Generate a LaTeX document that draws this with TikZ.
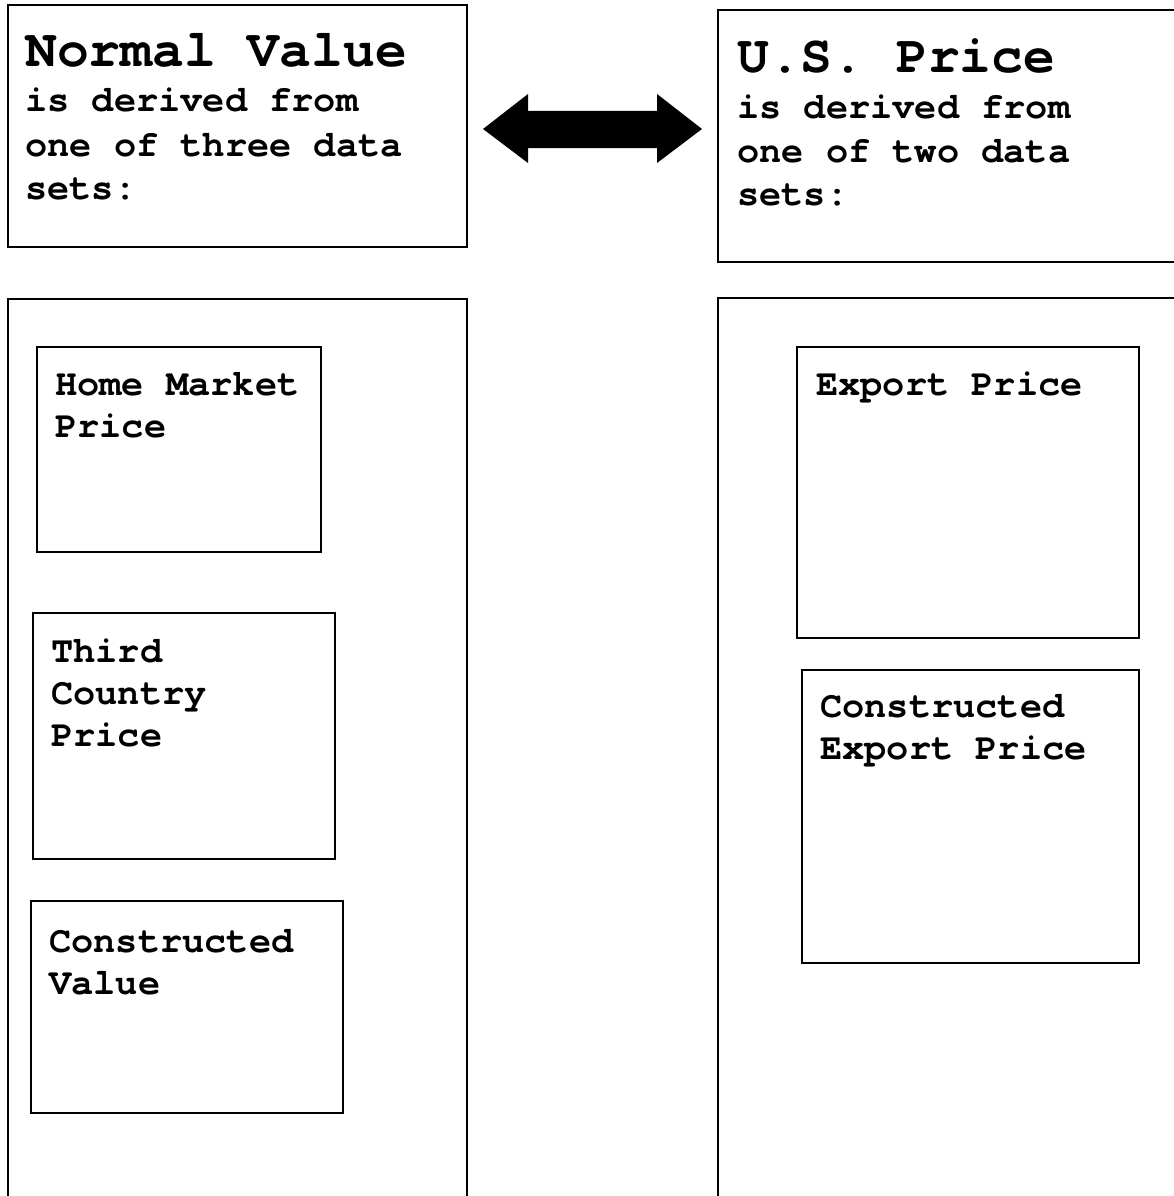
\documentclass[tikz,border=0pt]{standalone}
\usepackage{fontspec}
\setmainfont{texgyrecursor}[Extension=.otf, UprightFont=*-regular, BoldFont=*-bold, ItalicFont=*-italic, BoldItalicFont=*-bolditalic]
\newcommand{\ms}{\frenchspacing\spaceskip=0.6em\relax\xspaceskip=0.6em\relax}
\begin{document}
\begin{tikzpicture}[x=1pt,y=-1pt,
  frame/.style={draw=black, line width=2pt, inner sep=0pt, outer sep=0pt, anchor=north west, fill=none},
  title/.style={anchor=base west, inner sep=0pt, font=\fontsize{53}{60}\selectfont\bfseries},
  bodytxt/.style={anchor=base west, inner sep=0pt, align=left, text width=430pt, font=\fontsize{37}{44}\selectfont\bfseries},
  itemtxt/.style={anchor=base west, inner sep=0pt, align=left, text width=320pt, font=\fontsize{37}{42}\selectfont\bfseries}]
\useasboundingbox[fill=white] (0,0) rectangle (1174,1196);
% top boxes
\node[frame, minimum width=459pt, minimum height=242pt] (nvbox) at (8,5) {};
\node[frame, minimum width=480pt, minimum height=252pt] (usbox) at (718,10) {};
% lower outer boxes
\node[frame, minimum width=459pt, minimum height=920pt] (nvouter) at (8,299) {};
\node[frame, minimum width=480pt, minimum height=920pt] (usouter) at (718,298) {};
% inner boxes
\node[frame, minimum width=284pt, minimum height=205pt] (hm) at (37,347) {};
\node[frame, minimum width=302pt, minimum height=246pt] (tc) at (33,613) {};
\node[frame, minimum width=312pt, minimum height=212pt] (cv) at (31,901) {};
\node[frame, minimum width=342pt, minimum height=291pt] (ep) at (797,347) {};
\node[frame, minimum width=337pt, minimum height=293pt] (cep) at (802,670) {};
% texts
\node[title] (nvtitle) at (25,67) {\ms Normal Value};
\node[bodytxt] (nvbody) at (25,112) {\ms is derived from\\one of three data\\sets:};
\node[title] (ustitle) at (737,73) {\ms U.S. Price};
\node[bodytxt] (usbody) at (737,118) {\ms is derived from\\one of two data\\sets:};
\node[itemtxt] (hmt) at (55,395) {\ms Home Market\\Price};
\node[itemtxt] (tct) at (51,662) {\ms Third\\Country\\Price};
\node[itemtxt] (cvt) at (49,952) {\ms Constructed\\Value};
\node[itemtxt] (ept) at (816,395) {\ms Export Price};
\node[itemtxt] (cept) at (820,717) {\ms Constructed\\Export Price};
% double block arrow between the two top boxes
\coordinate (al) at (483,129);
\coordinate (ar) at (702,129);
\fill[black] (al) -- ++(45,-35) -- ++(0,17) -- ++(129,0) -- ++(0,-17) -- (ar)
  -- ++(-45,34) -- ++(0,-15) -- ++(-129,0) -- ++(0,15) -- cycle;
\end{tikzpicture}
\end{document}
